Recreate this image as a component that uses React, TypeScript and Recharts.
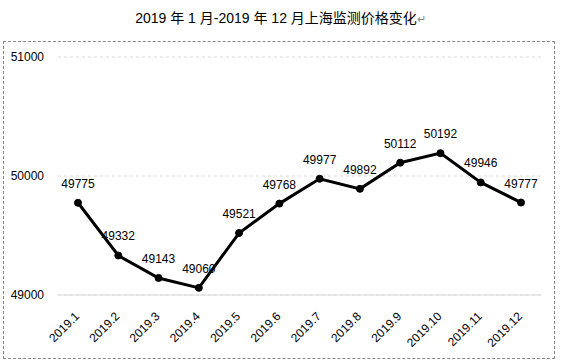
import React from "react";
import { LineChart, Line, XAxis, YAxis, CartesianGrid, LabelList } from "recharts";

const months = [
  "2019.1", "2019.2", "2019.3", "2019.4", "2019.5", "2019.6",
  "2019.7", "2019.8", "2019.9", "2019.10", "2019.11", "2019.12",
];
const prices = [49775, 49332, 49143, 49060, 49521, 49768, 49977, 49892, 50112, 50192, 49946, 49777];
const yTicks = [49000, 50000, 51000];

const title = "2019 年 1 月-2019 年 12 月上海监测价格变化";
const FONT = '"Liberation Sans", "Noto Sans CJK SC", sans-serif';

const data = months.map((m, i) => ({ month: m, price: prices[i] }));

function MonthTick(props: any) {
  const { x, y, payload } = props;
  const ax = x + 2;
  const ay = y + 14;
  return (
    <text
      x={ax}
      y={ay}
      transform={`rotate(-45, ${ax}, ${ay})`}
      textAnchor="end"
      fontSize={12}
      fill="#000"
      fontFamily={FONT}
    >
      {payload.value}
    </text>
  );
}

function PriceLabel(props: any) {
  const { x, y, value } = props;
  return (
    <text x={x} y={y - 15} textAnchor="middle" fontSize={12} fill="#000" fontFamily={FONT}>
      {value}
    </text>
  );
}

export default function App() {
  return (
    <div style={{ position: "absolute", left: 0, top: 0, width: 561, height: 364, background: "#fff", fontFamily: FONT }}>
      <div
        style={{
          position: "absolute",
          left: 0,
          top: 7,
          width: 561,
          textAlign: "center",
          fontSize: 14,
          color: "#000",
        }}
      >
        {title}
        <span style={{ color: "#888", fontSize: 11 }}>↵</span>
      </div>
      <div
        style={{
          position: "absolute",
          left: 3,
          top: 41,
          width: 550,
          height: 316,
          border: "1px dashed #888",
        }}
      />
      <div style={{ position: "absolute", left: 0, top: 0 }}>
        <LineChart width={561} height={364} data={data} margin={{ top: 57, right: 20, left: 0, bottom: 0 }}>
          <CartesianGrid horizontal vertical={false} stroke="#d9d9d9" strokeDasharray="3 3" />
          <XAxis
            dataKey="month"
            height={69}
            interval={0}
            padding={{ left: 20, right: 20 }}
            tickLine={false}
            axisLine={{ stroke: "#d9d9d9" }}
            tick={<MonthTick />}
          />
          <YAxis
            width={58}
            domain={[49000, 51000]}
            ticks={yTicks}
            axisLine={false}
            tickLine={false}
            tickSize={6}
            tickMargin={8}
            tick={{ fontSize: 12, fill: "#000", fontFamily: FONT }}
          />
          <Line
            type="linear"
            dataKey="price"
            stroke="#000"
            strokeWidth={3}
            dot={{ r: 3.5, fill: "#000", stroke: "#000", strokeWidth: 1 }}
            isAnimationActive={false}
          >
            <LabelList dataKey="price" content={<PriceLabel />} />
          </Line>
        </LineChart>
      </div>
    </div>
  );
}
